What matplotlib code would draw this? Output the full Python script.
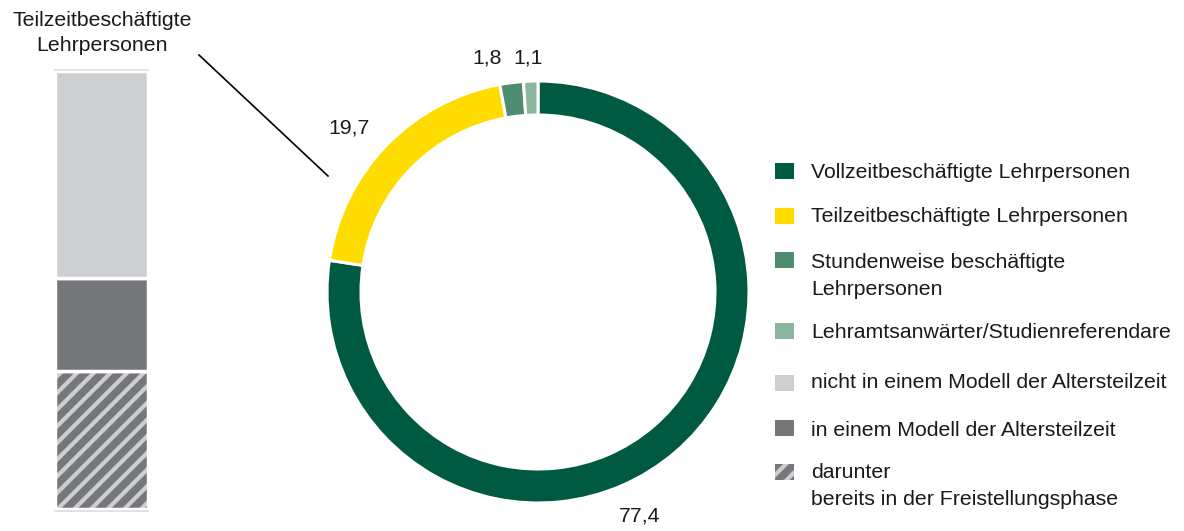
import matplotlib.pyplot as plt
from matplotlib.patches import Rectangle

plt.rcParams['font.family'] = ['Liberation Sans', 'DejaVu Sans']
plt.rcParams['hatch.linewidth'] = 3.0

# Ring: Anteile der Lehrpersonen in %
ring_labels = ['Vollzeitbeschäftigte Lehrpersonen', 'Teilzeitbeschäftigte Lehrpersonen',
               'Stundenweise beschäftigte\nLehrpersonen', 'Lehramtsanwärter/Studienreferendare']
ring_values = [77.4, 19.7, 1.8, 1.1]
ring_texts = ['77,4', '19,7', '1,8', '1,1']
ring_colors = ['#005A41', '#FFDC00', '#4F8D71', '#8BB79F']

# Balken: Teilzeitbeschäftigte nach Altersteilzeit (Anteile geschätzt)
bar_labels = ['darunter\nbereits in der Freistellungsphase', 'in einem Modell der Altersteilzeit',
              'nicht in einem Modell der Altersteilzeit']
bar_values = [31.5, 21.3, 47.2]
bar_colors = ['#76777A', '#76777A', '#CDCED0']
bar_hatch = ['//', None, None]

W, H = 1184, 531
FS = 15.3
fig = plt.figure(figsize=(W / 100, H / 100), dpi=100)

# ---------------- Ring ----------------
ax = fig.add_axes([0, 0, 1, 1])
cx, cy, r = 538, H - 292, 211
ax.pie(ring_values, colors=ring_colors, startangle=90, counterclock=False,
       center=(cx, cy), radius=r, frame=True,
       wedgeprops=dict(width=34, edgecolor='white', linewidth=2.2))
ax.set_xlim(0, W)
ax.set_ylim(0, H)
ax.set_aspect('equal')
ax.axis('off')

# Werte-Beschriftungen
label_pos = [(640, H - 516), (349, H - 128), (487, H - 58), (528, H - 58)]
for (x, y), t in zip(label_pos, ring_texts):
    ax.text(x, y, t, ha='center', va='center', fontsize=FS, color='#1a1a1a')

# Verbindungslinie zum Balken
ax.plot([199, 328], [H - 55, H - 176], color='black', lw=1.2)
ax.text(102, H - 33, 'Teilzeitbeschäftigte\nLehrpersonen', ha='center', va='center',
        fontsize=FS, color='#1a1a1a', linespacing=1.42)

# ---------------- Balken ----------------
bx = fig.add_axes([55 / W, (H - 511) / H, 93 / W, 441 / H])
bottom = 0
for v, c, h in zip(bar_values, bar_colors, bar_hatch):
    if h:
        bx.bar(0, v, bottom=bottom, width=1, color=c, edgecolor='#CDCED0', hatch=h, linewidth=0)
        bx.bar(0, v, bottom=bottom, width=1, fill=False, edgecolor='white', linewidth=2.5)
    else:
        bx.bar(0, v, bottom=bottom, width=1, color=c, edgecolor='white', linewidth=2.5)
    bottom += v
bx.set_xlim(-0.5, 0.5)
bx.set_ylim(-0.5, 100.2)
bx.set_xticks([])
bx.set_yticks([])
for s in ['left', 'right']:
    bx.spines[s].set_visible(False)
for s in ['top', 'bottom']:
    bx.spines[s].set_color('#E2E2E4')
    bx.spines[s].set_linewidth(1.5)

# ---------------- Legende ----------------
# (Text, Farbe, Schraffur, y Quadrat, y Text-Mitte)
leg_items = [
    (ring_labels[0], ring_colors[0], None, 171, 172),
    (ring_labels[1], ring_colors[1], None, 216, 216),
    (ring_labels[2], ring_colors[2], None, 260, 276),
    (ring_labels[3], ring_colors[3], None, 331, 332),
    (bar_labels[2], bar_colors[2], None, 383, 383),
    (bar_labels[1], bar_colors[1], None, 428, 430),
    (bar_labels[0], bar_colors[0], '//', 472, 486),
]
for lab, c, h, ys, yt in leg_items:
    if h:
        ax.add_patch(Rectangle((775, H - ys - 8), 19, 16, facecolor=c, edgecolor='#CDCED0',
                               hatch=h, linewidth=0))
    else:
        ax.add_patch(Rectangle((775, H - ys - 8), 19, 16, facecolor=c, edgecolor='none'))
    ax.text(811, H - yt, lab, ha='left', va='center',
            fontsize=FS, color='#1a1a1a', linespacing=1.58)

fig.savefig('out.png', dpi=100)
